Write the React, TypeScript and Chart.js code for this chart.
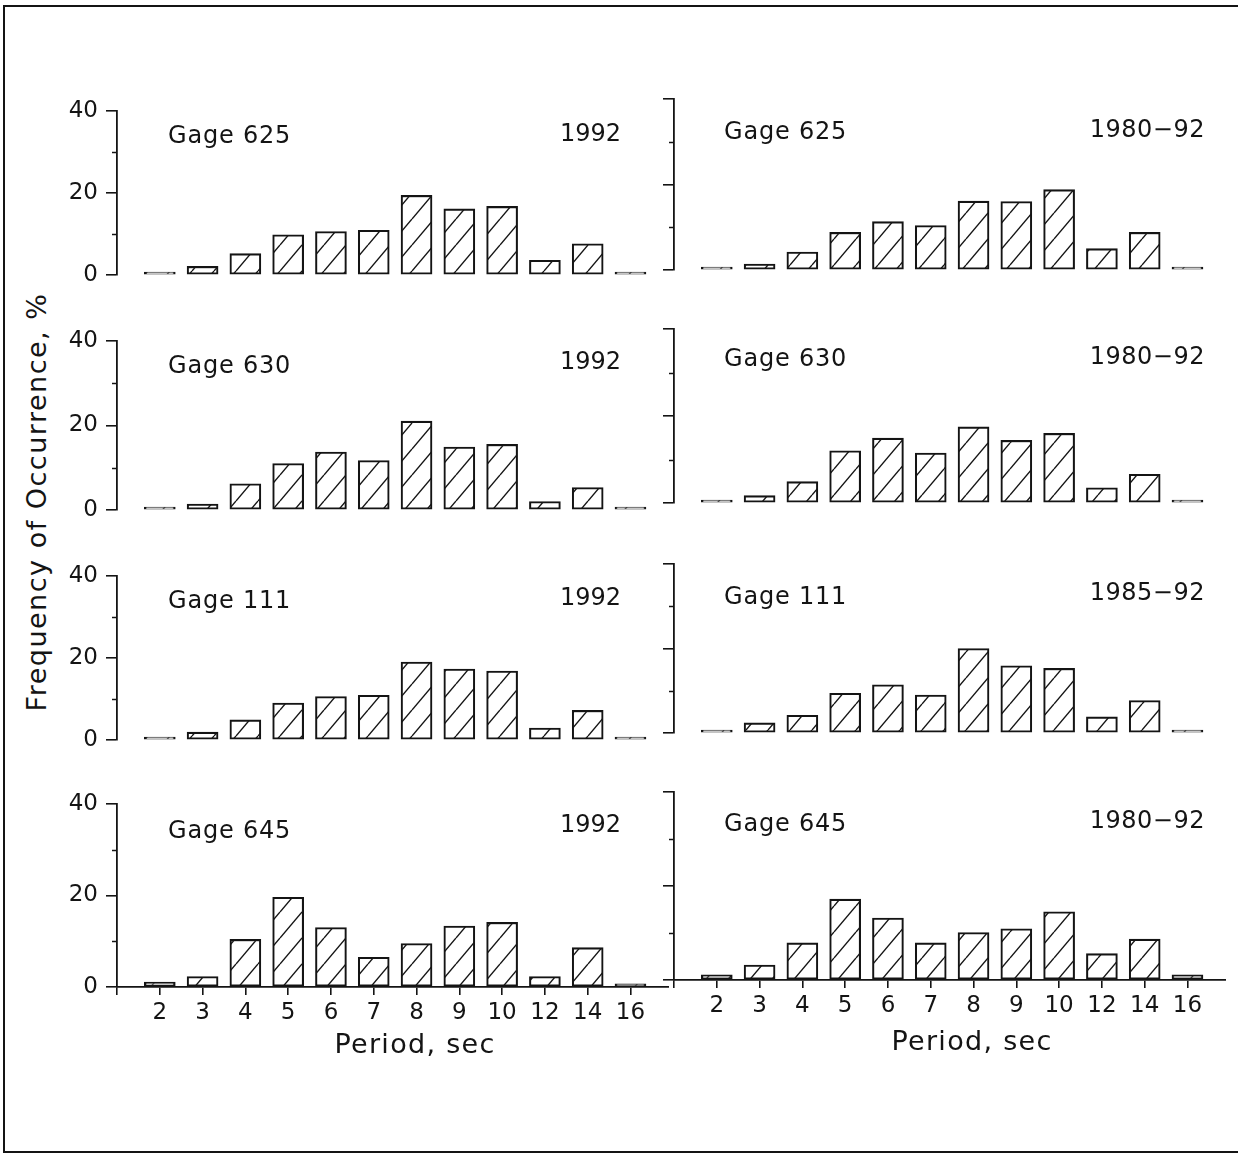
import React, { useEffect, useRef } from 'react';
import { Chart, registerables } from 'chart.js';

Chart.register(...registerables);

// ---- data ----
const periods = ['2', '3', '4', '5', '6', '7', '8', '9', '10', '12', '14', '16'];
const yTickValues = [0, 10, 20, 30, 40];

const gage625_1992 = [0.2, 2.1, 5.2, 9.8, 10.6, 10.9, 19.4, 16.1, 16.7, 3.6, 7.6, 0.5];
const gage625_1980_92 = [0.2, 1.4, 4.2, 8.8, 11.3, 10.4, 16.1, 16.0, 18.8, 5.0, 8.8, 0.7];
const gage630_1992 = [0.2, 1.4, 6.2, 11.0, 13.7, 11.7, 21.0, 14.9, 15.5, 2.0, 5.3, 0.2];
const gage630_1980_92 = [0.6, 1.7, 4.9, 12.0, 14.9, 11.5, 17.5, 14.4, 16.0, 3.5, 6.6, 0.3];
const gage111_1992 = [0.2, 1.9, 4.9, 9.0, 10.6, 10.9, 19.0, 17.3, 16.8, 2.9, 7.2, 0.3];
const gage111_1985_92 = [0.2, 2.4, 4.2, 9.4, 11.4, 9.0, 20.0, 15.9, 15.3, 3.8, 7.7, 0.4];
const gage645_1992 = [1.1, 2.3, 10.4, 19.6, 13.0, 6.5, 9.5, 13.3, 14.1, 2.3, 8.6, 0.7];
const gage645_1980_92 = [1.1, 3.2, 7.9, 17.2, 13.2, 7.9, 10.1, 10.9, 14.5, 5.6, 8.7, 1.1];

const gageNames = ['Gage 625', 'Gage 630', 'Gage 111', 'Gage 645'];
const leftYears = ['1992', '1992', '1992', '1992'];
const rightYears = ['1980\u221292', '1980\u221292', '1985\u221292', '1980\u221292'];
const yTitle = 'Frequency of Occurrence, %';
const xTitle = 'Period, sec';

const leftSeries = [gage625_1992, gage630_1992, gage111_1992, gage645_1992];
const rightSeries = [gage625_1980_92, gage630_1980_92, gage111_1985_92, gage645_1980_92];

// ---- layout ----
const FONT = '"DejaVu Sans", "Liberation Sans", sans-serif';
const INK = '#141414';
const UNIT_PX = 42.8;
const X_MAX = 12.9;
const LEFT_AXIS_X = 117;
const RIGHT_AXIS_X = 674;
const leftRows = [[105, 291], [335, 526], [570, 756], [798, 987]];
const rightRows = [[99, 286], [329, 519], [564, 749], [792, 980]];
const leftLabelTops = [[123, 121], [353, 349], [588, 585], [818, 812]];
const rightLabelTops = [[119, 117], [346, 344], [584, 580], [811, 808]];

function makeHatch(): CanvasPattern | string {
  const w = 22;
  const h = 26;
  const c = document.createElement('canvas');
  c.width = w;
  c.height = h;
  const g = c.getContext('2d');
  if (!g) return '#fff';
  g.fillStyle = '#fff';
  g.fillRect(0, 0, w, h);
  g.strokeStyle = INK;
  g.lineWidth = 1.4;
  for (const dx of [-w, 0, w]) {
    g.beginPath();
    g.moveTo(dx, h);
    g.lineTo(dx + w, 0);
    g.stroke();
  }
  return g.createPattern(c, 'repeat') || '#fff';
}

const minorTicks = {
  id: 'minorTicks',
  afterDraw(chart: any) {
    const y = chart.scales.y;
    const x0 = chart.chartArea.left;
    const ctx = chart.ctx;
    ctx.save();
    ctx.strokeStyle = INK;
    ctx.lineWidth = 1.5;
    for (const v of yTickValues) {
      if (v % 20 === 0) continue;
      const py = Math.round(y.getPixelForValue(v)) + 0.5;
      ctx.beginPath();
      ctx.moveTo(x0, py);
      ctx.lineTo(x0 - 5, py);
      ctx.stroke();
    }
    ctx.restore();
  },
};

type PanelProps = {
  values: number[];
  axisX: number;
  yTop: number;
  yBottom: number;
  col: number;
  showX: boolean;
};

function Panel({ values, axisX, yTop, yBottom, col, showX }: PanelProps) {
  const ref = useRef<HTMLCanvasElement>(null);
  const yW = col === 0 ? 57 : 16;
  const padTop = 16;
  const bottomH = showX ? 46 : 16;
  const areaW = Math.round(UNIT_PX * X_MAX);
  const areaH = yBottom - yTop;
  const width = yW + areaW;
  const height = padTop + areaH + bottomH;

  useEffect(() => {
    if (!ref.current) return;
    const hatch = makeHatch();
    const chart = new Chart(ref.current, {
      type: 'bar',
      data: {
        datasets: [
          {
            data: values.map((v, i) => ({ x: i + 1, y: v })),
            backgroundColor: hatch as any,
            borderColor: INK,
            borderWidth: 2.1,
            borderSkipped: false,
            barThickness: 31,
            minBarLength: 3,
          } as any,
        ],
      },
      plugins: [minorTicks],
      options: {
        responsive: false,
        animation: false,
        devicePixelRatio: 1,
        layout: { padding: { top: padTop, bottom: showX ? 0 : bottomH, left: 0, right: 0 } },
        plugins: {
          legend: { display: false },
          tooltip: { enabled: false },
        },
        scales: {
          x: {
            type: 'linear',
            min: 0,
            max: X_MAX,
            offset: false,
            display: showX,
            afterBuildTicks: (s: any) => {
              s.ticks = [0, ...periods.map((_, i) => i + 1)].map((v) => ({ value: v }));
            },
            afterFit: (s: any) => {
              s.height = bottomH;
            },
            grid: {
              offset: false,
              drawOnChartArea: false,
              drawTicks: true,
              tickLength: 8,
              tickColor: INK,
              lineWidth: 1.6,
            },
            border: { display: true, color: INK, width: 1.8 },
            ticks: {
              autoSkip: false,
              maxRotation: 0,
              padding: 4,
              color: INK,
              font: { family: FONT, size: 23 },
              callback: (v: any) => (v >= 1 ? periods[Math.round(v) - 1] : ''),
            },
          },
          y: {
            min: 0,
            max: 40,
            afterBuildTicks: (s: any) => {
              s.ticks = yTickValues.map((v) => ({ value: v }));
            },
            afterFit: (s: any) => {
              s.width = yW;
            },
            grid: {
              drawOnChartArea: false,
              drawTicks: true,
              tickLength: 11,
              lineWidth: 1.6,
              tickColor: (ctx: any) =>
                ctx.tick && ctx.tick.value % 20 === 0 ? INK : 'rgba(0,0,0,0)',
            },
            border: { display: true, color: INK, width: 1.8 },
            ticks: {
              display: col === 0,
              padding: 8,
              color: INK,
              font: { family: FONT, size: 23 },
              callback: (v: any) => (v % 20 === 0 ? String(v) : ''),
            },
          },
        },
      } as any,
    });
    return () => chart.destroy();
  }, []);

  return (
    <canvas
      ref={ref}
      width={width}
      height={height}
      style={{ position: 'absolute', left: axisX - yW, top: yTop - padTop, width, height }}
    />
  );
}

const textBase: React.CSSProperties = {
  position: 'absolute',
  fontFamily: FONT,
  color: INK,
  whiteSpace: 'nowrap',
};

export default function App() {
  return (
    <div
      style={{
        position: 'absolute',
        left: 0,
        top: 0,
        width: 1238,
        height: 1156,
        overflow: 'hidden',
        background: '#fff',
      }}
    >
      <div
        style={{
          position: 'absolute',
          left: 3,
          top: 5,
          width: 1260,
          height: 1144,
          borderTop: `2px solid ${INK}`,
          borderLeft: `2px solid ${INK}`,
          borderBottom: `2px solid ${INK}`,
        }}
      />
      {leftSeries.map((vals, r) => (
        <Panel
          key={'l' + r}
          values={vals}
          axisX={LEFT_AXIS_X}
          yTop={leftRows[r][0]}
          yBottom={leftRows[r][1]}
          col={0}
          showX={r === 3}
        />
      ))}
      {rightSeries.map((vals, r) => (
        <Panel
          key={'r' + r}
          values={vals}
          axisX={RIGHT_AXIS_X}
          yTop={rightRows[r][0]}
          yBottom={rightRows[r][1]}
          col={1}
          showX={r === 3}
        />
      ))}
      {gageNames.map((name, r) => (
        <React.Fragment key={'t' + r}>
          <div style={{ ...textBase, left: 168, top: leftLabelTops[r][0], fontSize: 24, lineHeight: '24px', letterSpacing: 0.8 }}>
            {name}
          </div>
          <div style={{ ...textBase, left: 421, width: 200, textAlign: 'right', top: leftLabelTops[r][1], fontSize: 24, lineHeight: '24px' }}>
            {leftYears[r]}
          </div>
          <div style={{ ...textBase, left: 724, top: rightLabelTops[r][0], fontSize: 24, lineHeight: '24px', letterSpacing: 0.8 }}>
            {name}
          </div>
          <div style={{ ...textBase, left: 1005, width: 200, textAlign: 'right', top: rightLabelTops[r][1], fontSize: 24, lineHeight: '24px', letterSpacing: 0.5 }}>
            {rightYears[r]}
          </div>
        </React.Fragment>
      ))}
      <div
        style={{
          ...textBase,
          left: 37 - 250,
          top: 502 - 15,
          width: 500,
          height: 30,
          lineHeight: '30px',
          fontSize: 27,
          letterSpacing: 1.5,
          textAlign: 'center',
          transform: 'rotate(-90deg)',
        }}
      >
        {yTitle}
      </div>
      <div style={{ ...textBase, left: 415 - 150, width: 300, textAlign: 'center', top: 1029, fontSize: 27, lineHeight: '30px', letterSpacing: 1.3 }}>
        {xTitle}
      </div>
      <div style={{ ...textBase, left: 972 - 150, width: 300, textAlign: 'center', top: 1026, fontSize: 27, lineHeight: '30px', letterSpacing: 1.3 }}>
        {xTitle}
      </div>
    </div>
  );
}
